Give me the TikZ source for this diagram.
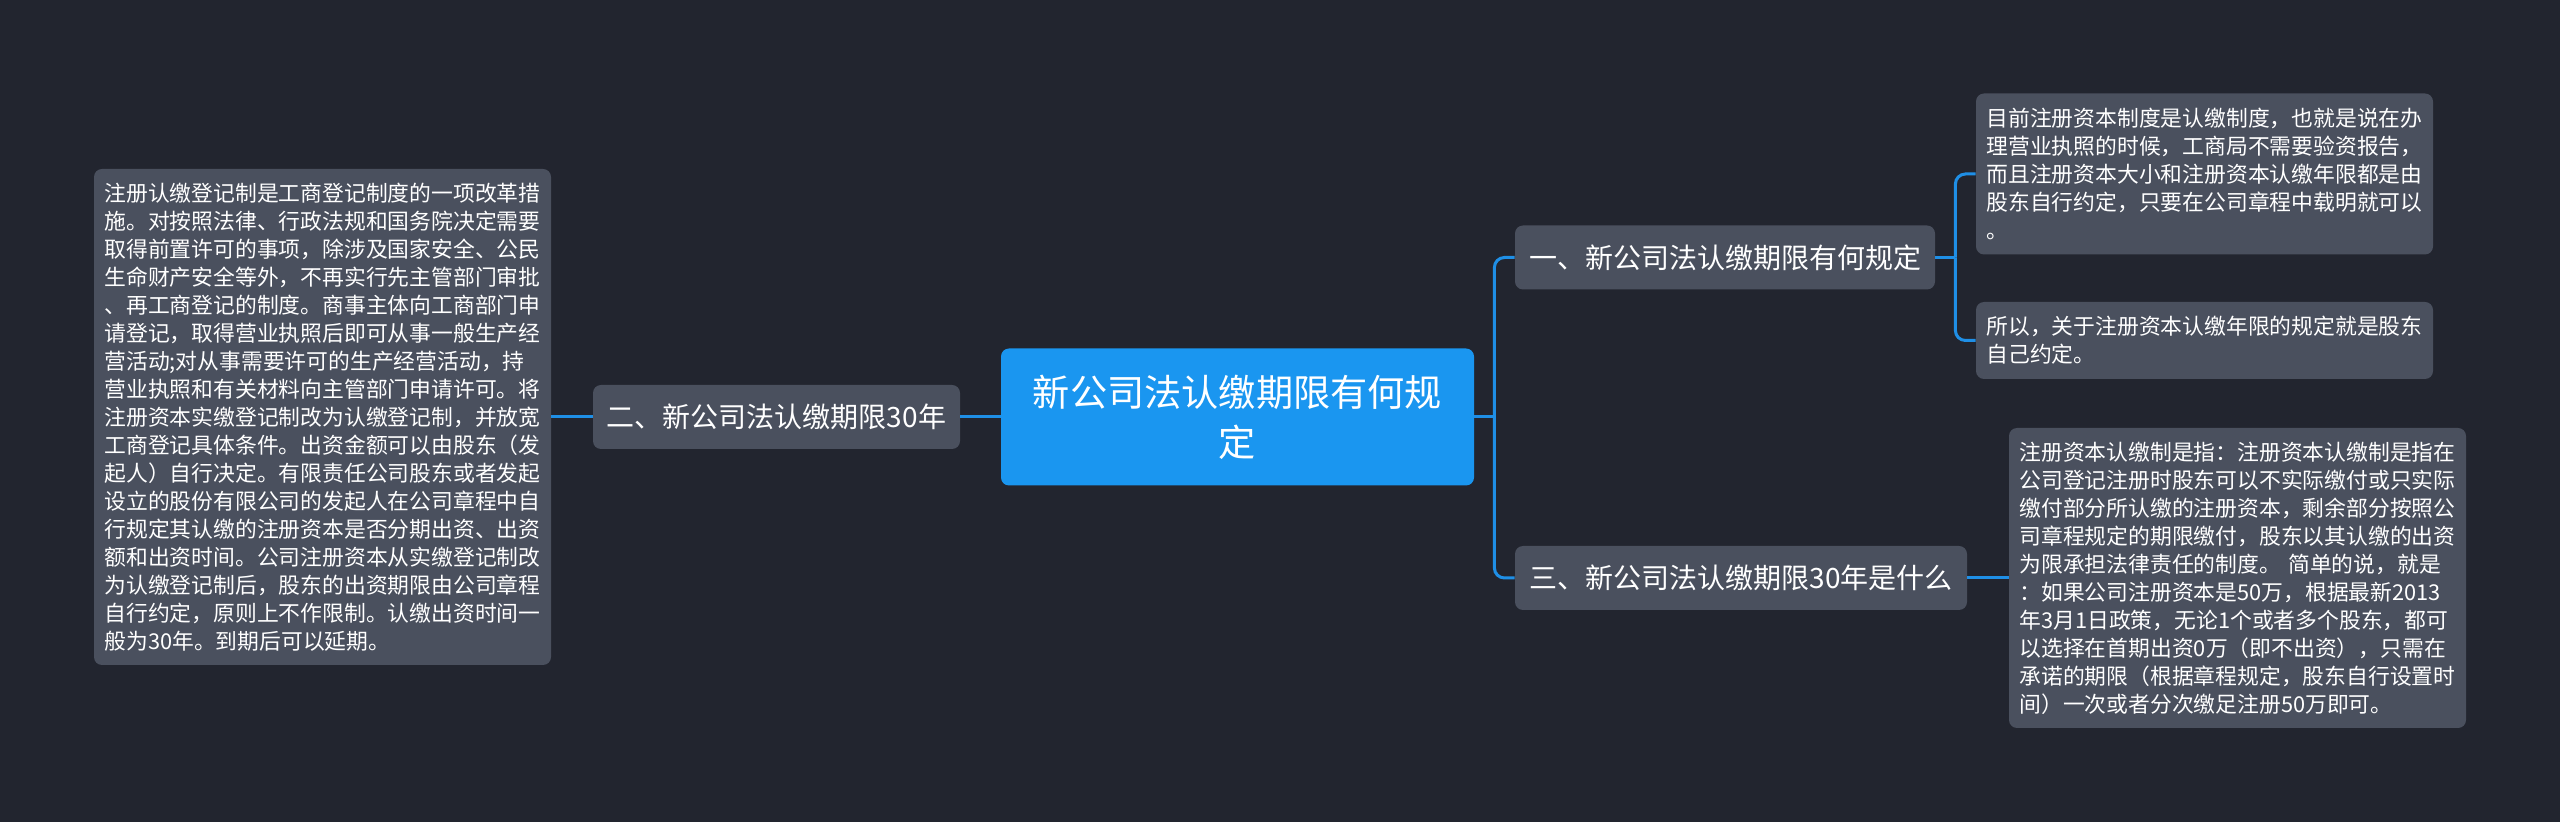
\documentclass[tikz,border=0pt]{standalone}
\usepackage{fontspec}
\setmainfont{Noto Sans CJK SC}
\usepackage{tikz}

\definecolor{bgnavy}{HTML}{22252F}
\definecolor{boxgray}{HTML}{4A505E}
\definecolor{rootblue}{HTML}{1A96F0}
\definecolor{linkblue}{HTML}{1F8FE6}

\tikzset{
   root/.style={fill=rootblue, text=white, rounded corners=4pt, align=center,
      font=\fontsize{18.6}{25}\selectfont, minimum width=236.5pt, minimum height=68.5pt, inner sep=0pt},
   branch/.style={fill=boxgray, text=white, rounded corners=4pt,
      font=\fontsize{14}{17}\selectfont, minimum height=32pt, inner sep=0pt},
   leaf/.style={fill=boxgray, text=white, rounded corners=4pt, align=left,
      font=\fontsize{10.9}{14}\selectfont, text width=218pt, inner xsep=5.25pt, inner ysep=0pt},
   link/.style={draw=linkblue, line width=1.5pt, rounded corners=5pt},
}

\begin{document}
\begin{tikzpicture}[x=0.5pt, y=-0.5pt]

   % background
   \fill[bgnavy] (0,0) rectangle (2560,822);
   \useasboundingbox (0,0) rectangle (2560,822);

   \node[root] (root) at (1237.5,417) {新公司法认缴期限有何规\\定};

   % left side
   \node[branch, minimum width=183.5pt] (b2) at (776.5,417) {二、新公司法认缴期限30年};
   \node[leaf, minimum height=248pt] (lefttxt) at (322.5,417) {注册认缴登记制是工商登记制度的一项改革措\\
施。对按照法律、行政法规和国务院决定需要\\
取得前置许可的事项，除涉及国家安全、公民\\
生命财产安全等外，不再实行先主管部门审批\\
、再工商登记的制度。商事主体向工商部门申\\
请登记，取得营业执照后即可从事一般生产经\\
营活动;对从事需要许可的生产经营活动，持\\
营业执照和有关材料向主管部门申请许可。将\\
注册资本实缴登记制改为认缴登记制，并放宽\\
工商登记具体条件。出资金额可以由股东（发\\
起人）自行决定。有限责任公司股东或者发起\\
设立的股份有限公司的发起人在公司章程中自\\
行规定其认缴的注册资本是否分期出资、出资\\
额和出资时间。公司注册资本从实缴登记制改\\
为认缴登记制后，股东的出资期限由公司章程\\
自行约定，原则上不作限制。认缴出资时间一\\
般为30年。到期后可以延期。};

   % right side
   \node[branch, minimum width=210pt] (b1) at (1725,257.5) {一、新公司法认缴期限有何规定};
   \node[branch, minimum width=226pt] (b3) at (1741,578) {三、新公司法认缴期限30年是什么};

   \node[leaf, minimum height=80.5pt] (leaf1) at (2204.5,174) {目前注册资本制度是认缴制度，也就是说在办\\
理营业执照的时候，工商局不需要验资报告，\\
而且注册资本大小和注册资本认缴年限都是由\\
股东自行约定，只要在公司章程中载明就可以\\
。};
   \node[leaf, minimum height=38.5pt] (leaf2) at (2204.5,340.5) {所以，关于注册资本认缴年限的规定就是股东\\
自己约定。};
   \node[leaf, minimum height=150pt] (leaf3) at (2237.5,578) {注册资本认缴制是指：注册资本认缴制是指在\\
公司登记注册时股东可以不实际缴付或只实际\\
缴付部分所认缴的注册资本，剩余部分按照公\\
司章程规定的期限缴付，股东以其认缴的出资\\
为限承担法律责任的制度。 简单的说，就是\\
：如果公司注册资本是50万，根据最新2013\\
年3月1日政策，无论1个或者多个股东，都可\\
以选择在首期出资0万（即不出资），只需在\\
承诺的期限（根据章程规定，股东自行设置时\\
间）一次或者分次缴足注册50万即可。};

   % connectors
   \draw[link] (root.west) -- (b2.east);
   \draw[link] (b2.west) -- (lefttxt.east);

   \draw[link] (root.east) -- ++(10pt,0) coordinate (rj);
   \draw[link] (rj) |- (b1.west);
   \draw[link] (rj) |- (b3.west);

   \draw[link] (b1.east) -- ++(10pt,0) coordinate (j1);
   \draw[link] (j1) |- (leaf1.west);
   \draw[link] (j1) |- (leaf2.west);

   \draw[link] (b3.east) -- (leaf3.west);

\end{tikzpicture}
\end{document}
